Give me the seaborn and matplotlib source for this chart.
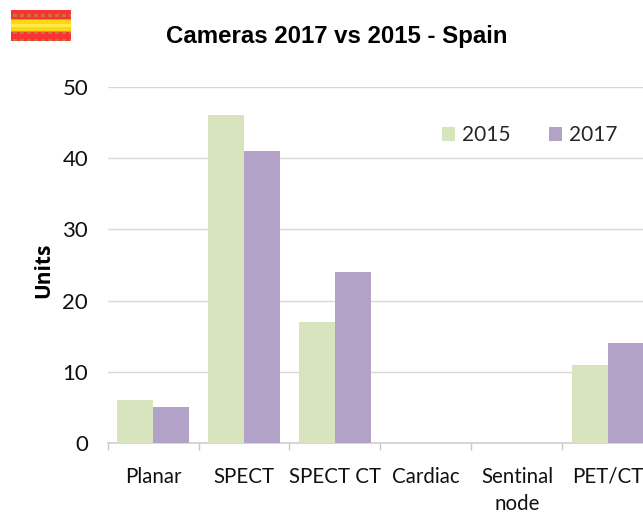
import numpy as np
import pandas as pd
import matplotlib.pyplot as plt
import seaborn as sns

# Valores
categories = ['Planar', 'SPECT', 'SPECT CT', 'Cardiac', 'Sentinal\nnode', 'PET/CT']
units_2015 = [6, 46, 17, 0, 0, 11]
units_2017 = [5, 41, 24, 0, 0, 14]
years = ['2015', '2017']
colors = ['#D7E4BD', '#B3A2C7']

df = pd.DataFrame({'category': categories * 2,
                   'year': [years[0]] * 6 + [years[1]] * 6,
                   'units': units_2015 + units_2017})

sns.set_theme(style='white')
plt.rcParams['font.family'] = ['Lato', 'DejaVu Sans']

fig = plt.figure(figsize=(6.43, 5.14), dpi=100)
# o eixo passa da borda direita, como no original
ax = fig.add_axes([107.5 / 643, 1 - 443 / 514, 546 / 643, 356 / 514])

sns.barplot(data=df, x='category', y='units', hue='year', palette=colors,
            order=categories, width=0.79, gap=0, saturation=1, linewidth=0,
            ax=ax, zorder=3)

ax.set_xlim(-0.5, 5.5)
ax.set_ylim(0, 50)
ax.set_yticks([0, 10, 20, 30, 40, 50])
ax.set_xlabel('')
ax.set_ylabel('Units', fontsize=15, fontweight='bold', family='Open Sans', labelpad=6, y=0.485, color='black')
ax.grid(axis='y', color='#D9D9D9', linewidth=1, zorder=0)
ax.set_axisbelow(True)
sns.despine(ax=ax, left=True, right=True, top=True)
ax.spines['bottom'].set_color('#D0D0D0')
ax.spines['bottom'].set_linewidth(1.2)

# marcas nas divisas das categorias
ax.set_xticks(np.arange(-0.5, 6, 1), minor=True)
ax.tick_params(axis='x', which='minor', length=5, width=1, color='#C8C8C8', bottom=True)
ax.tick_params(axis='x', which='major', length=0, labelsize=14.8, pad=17, labelcolor='#111111')
ax.tick_params(axis='y', length=0, labelsize=16, pad=14, labelcolor='#111111')
for label in ax.get_xticklabels():
    label.set_linespacing(1.45)

leg = ax.legend(loc='upper left', bbox_to_anchor=(0.612, 0.892), ncol=2, frameon=False,
                fontsize=15, handlelength=0.62, handleheight=0.62, handletextpad=0.35,
                columnspacing=1.85, borderpad=0, borderaxespad=0)

fig.text(337 / 643, 1 - 36 / 514, 'Cameras 2017 vs 2015 - Spain', ha='center', va='center',
         fontsize=17.3, fontweight='bold', family='Liberation Sans', color='black')

# bandeira da Espanha no canto, com a textura pontilhada do original
red = [0.98, 0.2, 0.2]
dot = [0.78, 0.46, 0.23]
flag_img = np.full((31, 60, 3), red)
flag_img[10:21] = [1.0, 0.84, 0.08]
flag_img[14:17] = [1.0, 0.93, 0.27]
flag_img[9] = [0.98, 0.55, 0.15]
flag_img[21] = [0.98, 0.55, 0.15]
for row, height in [(4, 3), (22, 2), (29, 2)]:
    for col in range(2, 60, 7):
        flag_img[row:row + height, col:col + 4] = dot
flag = fig.add_axes([11 / 643, 1 - 41 / 514, 60 / 643, 31 / 514])
flag.imshow(flag_img, aspect='auto', interpolation='bilinear')
flag.axis('off')

fig.savefig('out.png', dpi=100)
